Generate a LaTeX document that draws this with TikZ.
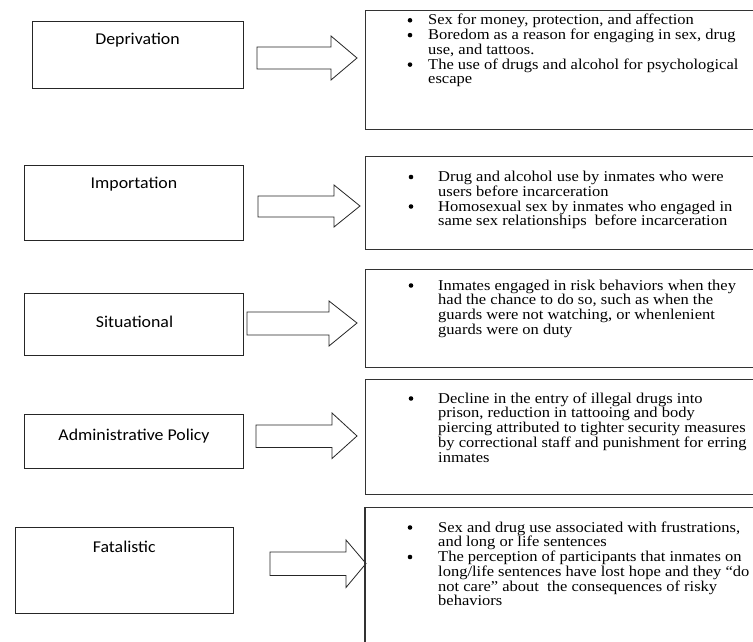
\documentclass[tikz,border=0pt]{standalone}
\usepackage{fontspec}
\newfontfamily\lfont[FakeStretch=1.08]{Carlito}
\newfontfamily\rfont[FakeStretch=1.10]{Liberation Serif}
\begin{document}
\begin{tikzpicture}[x=1pt,y=-1pt,
  lbox/.style={draw=black!85, line width=0.8pt, rectangle, inner sep=0pt, anchor=north west},
  rbox/.style={draw=black!80, line width=1.1pt, rectangle, inner sep=0pt, anchor=north west},
  ltext/.style={font=\lfont\fontsize{16.5}{19}\selectfont, inner sep=0pt, anchor=base},
  rtext/.style={font=\rfont\fontsize{15.0}{14.75}\selectfont, inner sep=0pt, anchor=base west},
  bul/.style={circle, fill=black, inner sep=0pt, minimum size=4.6pt},
  barrow/.style={draw=black!85, line width=0.8pt, fill=white, line join=miter}]
\useasboundingbox (0,0) rectangle (753,642);
\begin{scope}
\clip (0,0) rectangle (753,642);
\fill[white] (0,0) rectangle (753,642);

% left boxes
\node[lbox, minimum width=211pt, minimum height=67pt] (dep) at (32,21) {};
\node[lbox, minimum width=219pt, minimum height=75pt] (imp) at (24,164.5) {};
\node[lbox, minimum width=219pt, minimum height=62pt] (sit) at (24,293) {};
\node[lbox, minimum width=219pt, minimum height=53.5pt] (adm) at (24,414) {};
\node[lbox, minimum width=218.6pt, minimum height=85.5pt] (fat) at (14.7,527) {};

\node[ltext] (depL) at (137.5,44.5) {Deprivation};
\node[ltext] (impL) at (134,188.5) {Importation};
\node[ltext] (sitL) at (134.5,327) {Situational};
\node[ltext] (admL) at (134,440.5) {Administrative Policy};
\node[ltext] (fatL) at (124.3,552) {Fatalistic};

% right boxes
\node[rbox, minimum width=400pt, minimum height=118.5pt] (r1) at (365,10) {};
\node[rbox, minimum width=400pt, minimum height=93pt] (r2) at (365,156) {};
\node[rbox, minimum width=400pt, minimum height=98pt] (r3) at (365,269) {};
\node[rbox, minimum width=400pt, minimum height=115.5pt] (r4) at (365,378.5) {};
\node[rbox, minimum width=400pt, minimum height=160pt] (r5) at (365,507) {};

% block arrows
\draw[barrow] (257,47) -- (331,47) -- (331,36) -- (357,58) -- (331,80) -- (331,69) -- (257,69) -- cycle;
\draw[barrow] (258,196) -- (334,196) -- (334,185) -- (360,206) -- (334,227) -- (334,217) -- (258,217) -- cycle;
\draw[barrow] (247,312) -- (329,312) -- (329,301) -- (357,323) -- (329,346) -- (329,335) -- (247,335) -- cycle;
\draw[barrow] (256,425) -- (332,425) -- (332,413) -- (357,436) -- (332,458.5) -- (332,447.5) -- (256,447.5) -- cycle;
\draw[barrow] (270,552) -- (346,552) -- (346,540) -- (366,563.5) -- (346,587.5) -- (346,575.5) -- (270,575.5) -- cycle;
\draw[rbox] (r5.north west) -- (365,642);

% box 1 text
\node[bul] (b11) at (410,20.3) {};
\node[rtext] (t11) at (428,24.8) {Sex for money, protection, and affection};
\node[bul] (b12) at (410,35.1) {};
\node[rtext] (t12) at (428,39.6) {Boredom as a reason for engaging in sex, drug};
\node[rtext] (t12b) at (428,54.3) {use, and tattoos.};
\node[bul] (b13) at (410,64.6) {};
\node[rtext] (t13) at (428,69.1) {The use of drugs and alcohol for psychological};
\node[rtext] (t13b) at (428,83.8) {escape};

% box 2 text
\node[bul] (b21) at (411,177) {};
\node[rtext] (t21) at (438,181.5) {Drug and alcohol use by inmates who were};
\node[rtext] (t21b) at (438,196.2) {users before incarceration};
\node[bul] (b22) at (411,206.5) {};
\node[rtext] (t22) at (438,211) {Homosexual sex by inmates who engaged in};
\node[rtext] (t22b) at (438,225.7) {same sex relationships\ \ before incarceration};

% box 3 text
\node[bul] (b31) at (411,285.5) {};
\node[rtext] (t31) at (438,290) {Inmates engaged in risk behaviors when they};
\node[rtext] (t31b) at (438,304.7) {had the chance to do so, such as when the};
\node[rtext] (t31c) at (438,319.5) {guards were not watching, or whenlenient};
\node[rtext] (t31d) at (438,334.2) {guards were on duty};

% box 4 text
\node[bul] (b41) at (411,398.5) {};
\node[rtext] (t41) at (438,403) {Decline in the entry of illegal drugs into};
\node[rtext] (t41b) at (438,417.7) {prison, reduction in tattooing and body};
\node[rtext] (t41c) at (438,432.5) {piercing attributed to tighter security measures};
\node[rtext] (t41d) at (438,447.2) {by correctional staff and punishment for erring};
\node[rtext] (t41e) at (438,462) {inmates};

% box 5 text
\node[bul] (b51) at (410,527.5) {};
\node[rtext] (t51) at (438,532) {Sex and drug use associated with frustrations,};
\node[rtext] (t51b) at (438,546.7) {and long or life sentences};
\node[bul] (b52) at (410,557) {};
\node[rtext] (t52) at (438,561.5) {The perception of participants that inmates on};
\node[rtext] (t52b) at (438,576.2) {long/life sentences have lost hope and they “do};
\node[rtext] (t52c) at (438,591) {not care” about\ \ the consequences of risky};
\node[rtext] (t52d) at (438,605.7) {behaviors};
\end{scope}
\end{tikzpicture}
\end{document}
